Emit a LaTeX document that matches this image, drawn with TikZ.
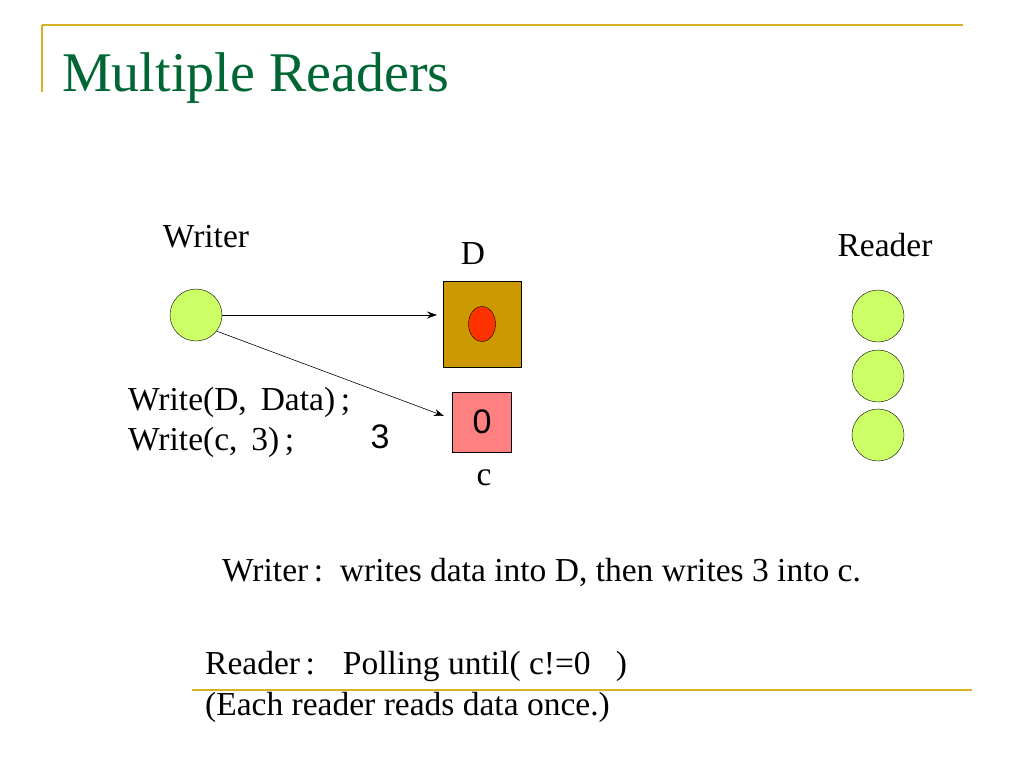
\documentclass[tikz,border=0pt]{standalone}
\usepackage{fontspec}
\setmainfont{Liberation Serif}
\newfontfamily\arialf{Liberation Sans}
\usetikzlibrary{shapes.geometric,arrows.meta}
\begin{document}
\begin{tikzpicture}[x=1pt,y=-1pt,
  txt/.style={font=\fontsize{33.5}{38}\selectfont, inner sep=0pt},
  ball/.style={circle, draw=black, fill={rgb,255:red,204;green,255;blue,102}, minimum size=52pt, inner sep=0pt},
  arr/.style={-{Stealth[length=10pt,width=7pt]}, line width=0.6pt}]
\useasboundingbox (0,0) rectangle (1024,768);
\definecolor{gold}{RGB}{214,178,40}
\draw[gold, line width=1.5pt] (42,25) -- (963,25);
\draw[gold, line width=1.5pt] (42,25) -- (42,92);
\draw[gold, line width=1.5pt] (192,690) -- (972,690);
\node[anchor=base west, inner sep=0pt, text={rgb,255:red,0;green,102;blue,51}, font=\fontsize{56}{62}\selectfont] (title) at (62,91) {Multiple Readers};
\node[ball] (w) at (196,315) {};
\node[txt] (wl) at (206,237) {Writer};
\node[draw=black, fill={rgb,255:red,204;green,153;blue,0}, minimum width=78pt, minimum height=86pt, inner sep=0pt] (D) at (482,324) {};
\node[ellipse, draw=black, fill={rgb,255:red,255;green,51;blue,0}, minimum width=27pt, minimum height=35pt, inner sep=0pt] (dot) at (482,324) {};
\node[txt] (dl) at (473,254) {D};
\node[draw=black, fill={rgb,255:red,255;green,128;blue,128}, minimum width=59pt, minimum height=60pt, inner sep=0pt, font=\arialf\fontsize{34}{38}\selectfont] (c) at (482,422) {0};
\node[txt] (cl) at (484,478) {c};
\coordinate (a1) at (437,315);
\coordinate (a2) at (444,416);
\draw[arr] (w.east) -- (a1);
\draw[arr] (w.-38) -- (a2);
\node[txt, anchor=base west] (w1) at (128,410) {Write(D,\, Data)\,;};
\node[txt, anchor=base west] (w2) at (128,450) {Write(c,\, 3)\,;};
\node[inner sep=0pt, font=\arialf\fontsize{34}{38}\selectfont] (three) at (380,437) {3};
\node[txt] (rl) at (885,245) {Reader};
\node[ball] (r1) at (878,316) {};
\node[ball] (r2) at (878,376) {};
\node[ball] (r3) at (878,435) {};
\node[txt, anchor=base west] (s1) at (222,581) {Writer\,:\, writes data into D, then writes 3 into c.};
\node[txt, anchor=base west] (s2) at (205,674) {Reader\,: \ \ Polling until( c!=0 \ \ )};
\node[txt, anchor=base west] (s3) at (205,715) {(Each reader reads data once.)};
\end{tikzpicture}
\end{document}
